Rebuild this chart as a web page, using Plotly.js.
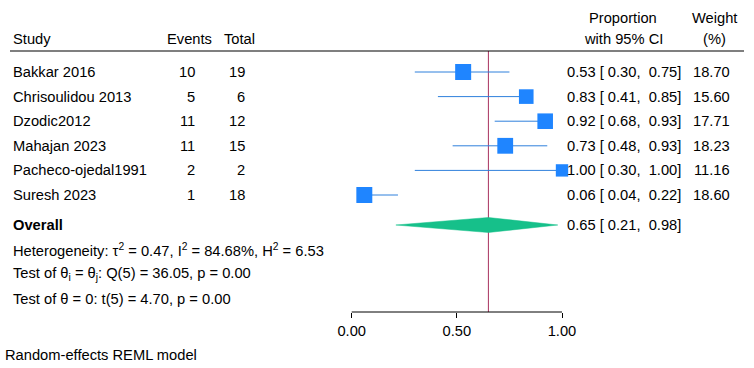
<!DOCTYPE html>
<html>
<head>
<meta charset="utf-8">
<script src="https://cdn.plot.ly/plotly-3.0.1.min.js"></script>
<style>html,body{margin:0;padding:0;background:#fff;}#chart{width:754px;height:368px;}</style>
</head>
<body>
<div id="chart"></div>
<script>
// ---- data ----
const studies = ["Bakkar 2016", "Chrisoulidou 2013", "Dzodic2012", "Mahajan 2023", "Pacheco-ojedal1991", "Suresh 2023"];
const events = [10, 5, 11, 11, 2, 1];
const totals = [19, 6, 12, 15, 2, 18];
const proportion = [0.53, 0.83, 0.92, 0.73, 1.00, 0.06];
const ciLow = [0.30, 0.41, 0.68, 0.48, 0.30, 0.04];
const ciHigh = [0.75, 0.85, 0.93, 0.93, 1.00, 0.22];
const weights = [18.70, 15.60, 17.71, 18.23, 11.16, 18.60];
const overallEst = 0.65, overallLow = 0.21, overallHigh = 0.98;
const tickVals = [0, 0.5, 1];
const tickText = ["0.00", "0.50", "1.00"];
const hetText = "Heterogeneity: τ<sup>2</sup> = 0.47, I<sup>2</sup> = 84.68%, H<sup>2</sup> = 6.53";
const test1Text = "Test of θ<sub>i</sub> = θ<sub>j</sub>: Q(5) = 36.05, p = 0.00";
const test2Text = "Test of θ = 0: t(5) = 4.70, p = 0.00";
const modelText = "Random-effects REML model";

// ---- layout helpers ----
const W = 754, H = 368;
const plotBottom = 312;            // pixel of the axis line
const rowTop = 72, rowStep = 24.6; // pixel of first study row, spacing
const px2paperX = p => p / W;
const px2paperY = p => 1 - p / plotBottom;
const px2row = p => (p - rowTop) / rowStep;
const FONT = "Liberation Sans, Arial, sans-serif";
const FS = 14.7;

const blue = "#1f85ff";
const lineBlue = "#2f80dc";
const green = "#16c08a";
const red = "#a8325e";

const n = studies.length;
const rows = studies.map((_, i) => i);

// CI lines
const ciX = [], ciY = [];
for (let i = 0; i < n; i++) { ciX.push(ciLow[i], ciHigh[i], null); ciY.push(i, i, null); }

const maxW = Math.max(...weights);
const sizes = weights.map(w => 16 * Math.sqrt(w / maxW));

const overallRow = px2row(225);
const dh = 7.5 / rowStep;

const traces = [
  { x: ciX, y: ciY, mode: "lines", line: { color: lineBlue, width: 1 }, hoverinfo: "skip", showlegend: false },
  { x: proportion, y: rows, mode: "markers", marker: { symbol: "square", size: sizes, color: blue, opacity: 1, line: { width: 0 } }, showlegend: false },
  { x: [overallLow, overallEst, overallHigh, overallEst, overallLow],
    y: [overallRow, overallRow - dh, overallRow, overallRow + dh, overallRow],
    mode: "lines", fill: "toself", fillcolor: green, line: { color: green, width: 0.5 }, showlegend: false }
];

const ann = [];
function txt(text, xp, yp, anchor, extra) {
  ann.push(Object.assign({ text: text, x: px2paperX(xp), y: px2paperY(yp), xref: "paper", yref: "paper",
    xanchor: anchor, yanchor: "middle", showarrow: false, font: { family: FONT, size: FS, color: "#000" } }, extra || {}));
}
// headers
txt("Study", 11, 39, "left");
txt("Events", 189, 39, "center");
txt("Total", 239.5, 39, "center");
txt("Proportion", 623, 18, "center");
txt("with 95% CI", 623, 39, "center");
txt("Weight", 714, 18, "center");
txt("(%)", 714, 39, "center");

const nb = "\u00A0";
for (let i = 0; i < n; i++) {
  const y = rowTop + rowStep * i;
  txt(studies[i], 11, y, "left");
  txt(String(events[i]), 197, y, "right");
  txt(String(totals[i]), 247, y, "right");
  txt(proportion[i].toFixed(2) + " [" + nb + ciLow[i].toFixed(2) + "," + nb + nb + ciHigh[i].toFixed(2) + "]", 565, y, "left");
  txt(weights[i].toFixed(2), 732, y, "right");
}
txt("<b>Overall</b>", 11, 225, "left");
txt(overallEst.toFixed(2) + " [" + nb + overallLow.toFixed(2) + "," + nb + nb + overallHigh.toFixed(2) + "]", 565, 225, "left");
txt(hetText, 11, 249.5, "left");
txt(test1Text, 11, 274, "left");
txt(test2Text, 11, 299, "left");
txt(modelText, 3, 355, "left");

const shapes = [
  { type: "line", xref: "paper", yref: "paper", x0: px2paperX(10), x1: px2paperX(744), y0: px2paperY(51), y1: px2paperY(51), line: { color: "#000", width: 1.2 } },
  { type: "line", xref: "x", yref: "paper", x0: overallEst, x1: overallEst, y0: 0, y1: px2paperY(51), line: { color: red, width: 1 }, layer: "below" },
  { type: "line", xref: "x", yref: "paper", x0: 0, x1: 1, y0: 0, y1: 0, line: { color: "#000", width: 1 } }
];

// x scale: 0 -> 351.7px, 1 -> 562px
const x0px = 351.7, unit = 210.3;
const layout = {
  width: W, height: H,
  margin: { l: 0, r: 0, t: 0, b: H - plotBottom, pad: 0 },
  paper_bgcolor: "#fff", plot_bgcolor: "#fff",
  xaxis: { range: [-x0px / unit, (W - x0px) / unit], showgrid: false, zeroline: false, showline: false,
    tickvals: tickVals, ticktext: tickText, ticks: "outside", ticklen: 5, tickwidth: 1, tickcolor: "#000",
    tickfont: { family: FONT, size: FS, color: "#000" }, fixedrange: true },
  yaxis: { range: [px2row(plotBottom), px2row(0)], showgrid: false, zeroline: false, showline: false,
    showticklabels: false, ticks: "", fixedrange: true },
  annotations: ann,
  shapes: shapes,
  showlegend: false,
  font: { family: FONT, size: FS, color: "#000" }
};

Plotly.newPlot("chart", traces, layout, { displayModeBar: false, staticPlot: true });
</script>
</body>
</html>
